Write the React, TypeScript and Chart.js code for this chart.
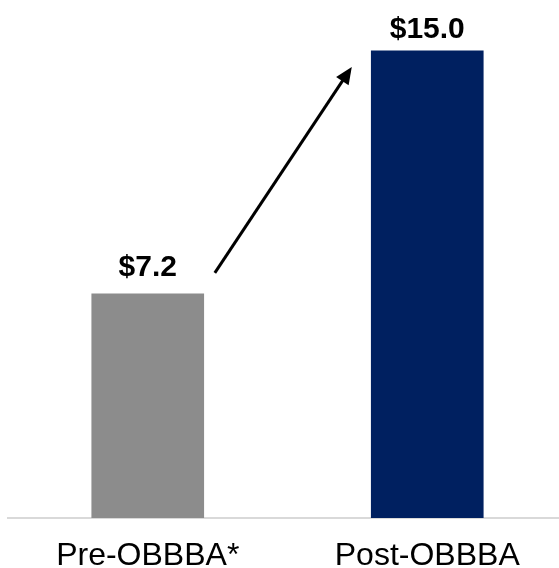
import React, { useEffect, useRef } from "react";
import { Chart, registerables } from "chart.js";

Chart.register(...registerables);

const categories = ["Pre-OBBBA*", "Post-OBBBA"];
const values = [7.2, 15.0];
const valueLabels = ["$7.2", "$15.0"];
const barColors = ["#8c8c8c", "#002060"];
// arrow endpoints in data space: [category index, value]
const arrowFrom = [0.24, 7.87];
const arrowTo = [0.73, 14.48];
const yMax = 16;

const FONT = "'Liberation Sans', Arial, Helvetica, sans-serif";

const labelPlugin = {
  id: "valueLabels",
  afterDatasetsDraw(chart: any, _args: any, opts: any) {
    const ctx = chart.ctx;
    const meta = chart.getDatasetMeta(0);
    ctx.save();
    ctx.font = `bold ${opts.size}px ${FONT}`;
    ctx.fillStyle = "#000";
    ctx.textAlign = "center";
    ctx.textBaseline = "alphabetic";
    meta.data.forEach((bar: any, i: number) => {
      const gap = opts.gaps[i] ?? 15;
      ctx.fillText(valueLabels[i], bar.x, bar.y - gap);
    });
    ctx.restore();
  },
};

const arrowPlugin = {
  id: "growthArrow",
  afterDatasetsDraw(chart: any) {
    const { ctx, scales } = chart;
    const x1 = scales.x.getPixelForValue(arrowFrom[0]);
    const y1 = scales.y.getPixelForValue(arrowFrom[1]);
    const x2 = scales.x.getPixelForValue(arrowTo[0]);
    const y2 = scales.y.getPixelForValue(arrowTo[1]);
    const ang = Math.atan2(y2 - y1, x2 - x1);
    const headLen = 17;
    const headHalf = 7.5;
    const bx = x2 - headLen * Math.cos(ang);
    const by = y2 - headLen * Math.sin(ang);
    ctx.save();
    ctx.strokeStyle = "#000";
    ctx.fillStyle = "#000";
    ctx.lineWidth = 3;
    ctx.beginPath();
    ctx.moveTo(x1, y1);
    ctx.lineTo(bx + 2 * Math.cos(ang), by + 2 * Math.sin(ang));
    ctx.stroke();
    ctx.beginPath();
    ctx.moveTo(x2, y2);
    ctx.lineTo(bx - headHalf * Math.sin(ang), by + headHalf * Math.cos(ang));
    ctx.lineTo(bx + headHalf * Math.sin(ang), by - headHalf * Math.cos(ang));
    ctx.closePath();
    ctx.fill();
    ctx.restore();
  },
};

export default function App() {
  const ref = useRef<HTMLCanvasElement | null>(null);
  useEffect(() => {
    if (!ref.current) return;
    const chart = new Chart(ref.current, {
      type: "bar",
      data: {
        labels: categories,
        datasets: [
          {
            data: values,
            backgroundColor: barColors,
            borderWidth: 0,
            barThickness: 112,
          },
        ],
      },
      options: {
        animation: false,
        responsive: true,
        maintainAspectRatio: false,
        layout: { padding: { left: 8, right: 0, top: 19.6, bottom: 0 } },
        plugins: {
          legend: { display: false },
          tooltip: { enabled: false },
          valueLabels: { size: 30, gaps: [18, 13] },
        } as any,
        scales: {
          x: {
            grid: { display: false, drawTicks: false },
            border: { display: true, color: "#d9d9d9", width: 2 },
            ticks: {
              color: "#000",
              font: { family: FONT, size: 32 },
              padding: 19,
              maxRotation: 0,
            },
            afterFit(scale: any) {
              scale.height = 50;
            },
          },
          y: {
            display: false,
            min: 0,
            max: yMax,
          },
        },
      },
      plugins: [labelPlugin, arrowPlugin],
    });
    return () => chart.destroy();
  }, []);
  return (
    <div
      style={{
        position: "absolute",
        left: 0,
        top: 0,
        width: 559,
        height: 568,
        overflow: "hidden",
        background: "#fff",
      }}
    >
      <div style={{ position: "relative", width: 567, height: 568 }}>
        <canvas ref={ref} />
      </div>
    </div>
  );
}
